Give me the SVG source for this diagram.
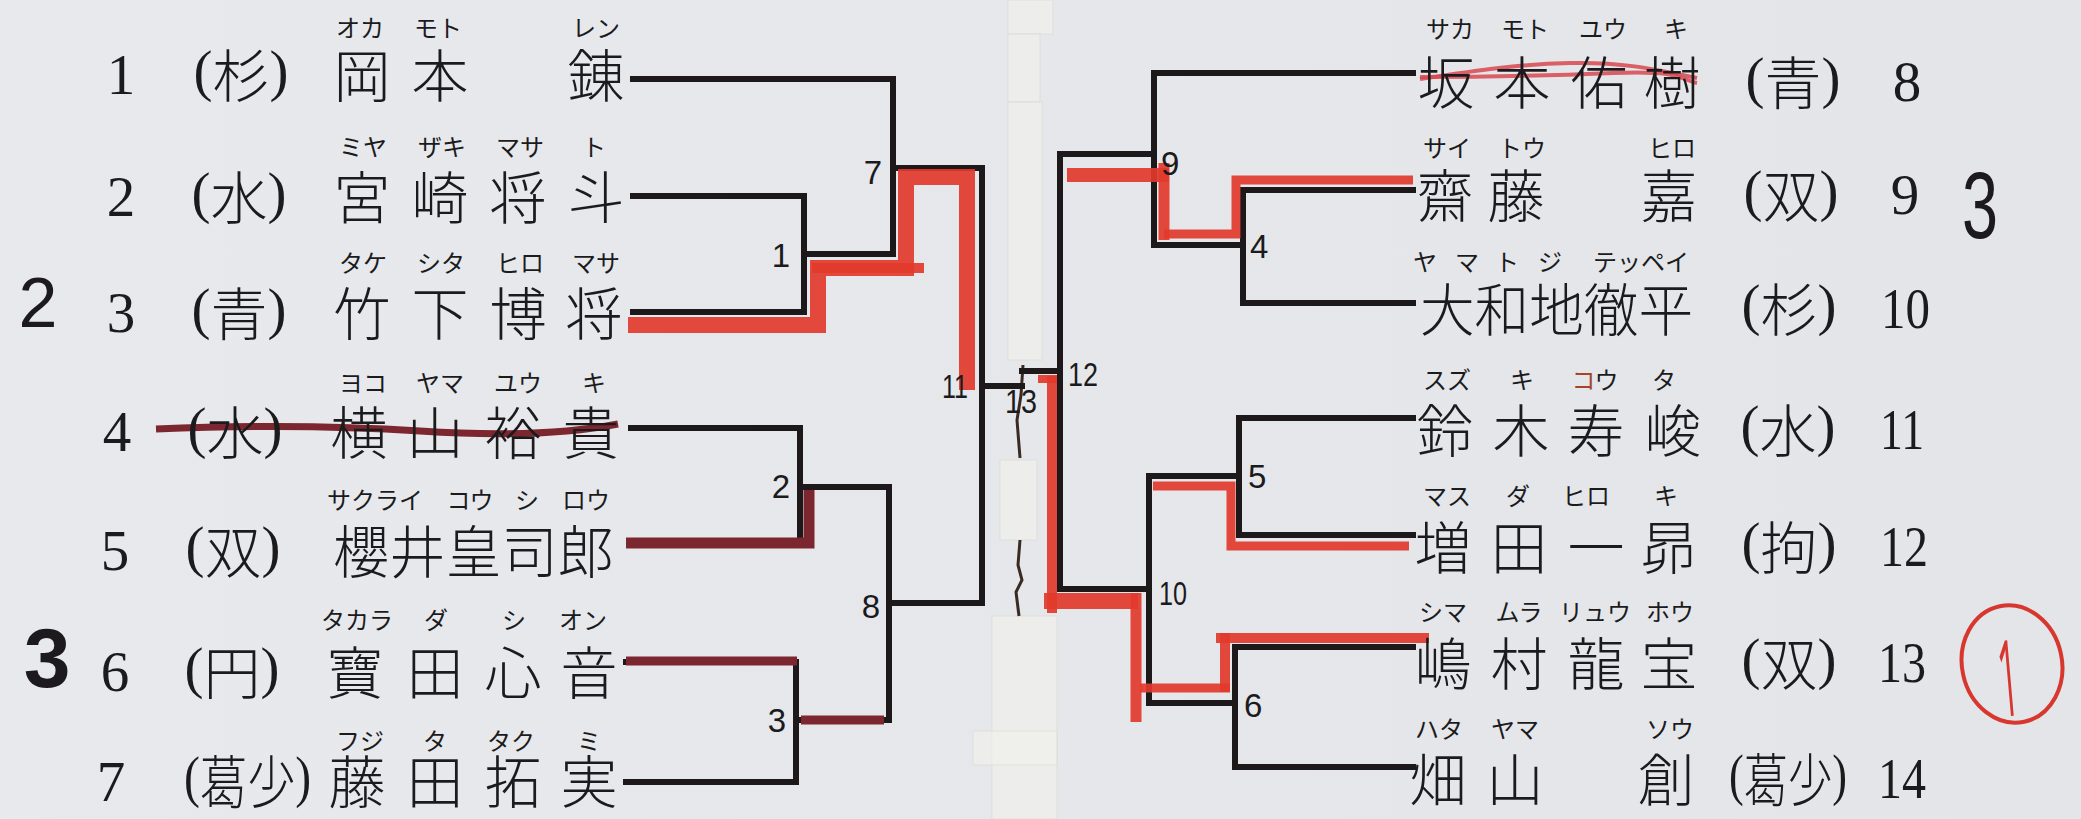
<svg xmlns="http://www.w3.org/2000/svg" width="2081" height="819" viewBox="0 0 2081 819">
<defs>
<style>
.num{font-family:'Liberation Serif','Noto Sans CJK JP',serif;font-size:57px;fill:#1b1b1d}
.nm{font-family:'Noto Sans CJK JP',sans-serif;font-size:57px;font-weight:300;fill:#1b1b1d}
.par{font-family:'Liberation Serif','Noto Sans CJK JP',serif;font-size:57px;fill:#1b1b1d;font-weight:300}
.kana{font-family:'Noto Sans CJK JP',sans-serif;font-size:24px;fill:#1b1b1d}
.lab{font-family:'Liberation Sans',sans-serif;font-size:33px;fill:#1b1b1d}
.hand{font-family:'Liberation Sans',sans-serif;fill:#1c1a1c}
.ln{fill:none;stroke:#1d181a;stroke-width:6;stroke-linecap:square;stroke-linejoin:miter}
.red{fill:none;stroke:#e2392c;stroke-linecap:butt;stroke-linejoin:miter;opacity:0.92}
.mar{fill:none;stroke:#7c2630;stroke-linecap:butt;stroke-linejoin:miter}
.tape{fill:#f0f0ec;stroke:#dcdcd5;stroke-width:1;opacity:0.7}
</style>
<linearGradient id="bg" x1="0" y1="0" x2="1" y2="0">
<stop offset="0" stop-color="#e8e9ec"/>
<stop offset="0.5" stop-color="#e6e7ea"/>
<stop offset="1" stop-color="#e3e5e8"/>
</linearGradient>
</defs>
<rect x="0" y="0" width="2081" height="819" fill="url(#bg)"/>

<g id="paper">
<rect class="tape" x="1008" y="0" width="45" height="34"/>
<rect class="tape" x="1008" y="34" width="32" height="68"/>
<rect class="tape" x="1008" y="102" width="34" height="258"/>
<rect class="tape" x="1000" y="460" width="37" height="80"/>
<rect class="tape" x="992" y="616" width="65" height="203"/>
<rect class="tape" x="973" y="731" width="84" height="34"/>
<path d="M1023 365 L1021 395 L1017 420 L1020 458 M1020 540 L1018 565 L1022 580 L1016 592 L1019 616" fill="none" stroke="#3a2a24" stroke-width="3"/>
</g>

<g id="connectors">
<path class="ln" d="M633 196 H804 V312 H633 M804 254 H893 M633 79 H893 V254 M893 168 H982 M631 428 H800 V542 H631 M800 487 H889 M626 662 H796 V782 H626 M796 720 H889 M889 487 V720 M889 603 H982 M982 168 V603 M982 386 H1022"/>
<path class="ln" d="M1413 73 H1154 V245 M1413 190 H1243 V303 H1413 M1243 245 H1154 M1154 154 H1060 M1060 154 V589 M1060 371 H1022 M1413 418 H1239 V535 H1413 M1239 476 H1149 M1149 476 V703 M1149 589 H1060 M1413 647 H1235 V767 H1413 M1235 703 H1149"/>
</g>

<g id="marks">
<path class="red" stroke-width="16" d="M628 325 H818 V268 H906 V177 H967 V390"/>
<path class="red" stroke-width="10" d="M812 268 H924"/>
<path class="mar" stroke-width="11" d="M626 543 H809 V490"/>
<path class="mar" stroke-width="9" stroke="#4a1c24" d="M626 661 H797 M801 720 H884"/>
<path class="mar" stroke-width="7" stroke="#a8323a" d="M156 429 Q300 423 420 431 T618 424"/>
<path class="red" stroke-width="9" d="M1413 180 H1236 V234 H1164"/>
<path class="red" stroke-width="11" d="M1164 240 V163"/>
<path class="red" stroke-width="14" d="M1169 175 H1067"/>
<path class="red" stroke-width="9" d="M1409 546 H1231 V486 H1153"/>
<path class="red" stroke-width="10" d="M1429 638 H1216"/>
<path class="red" stroke-width="10" d="M1225 633 V692"/>
<path class="red" stroke-width="9" d="M1230 688 H1140"/>
<path class="red" stroke-width="11" d="M1136 722 V593"/>
<path class="red" stroke-width="16" d="M1138 601 H1044"/>
<path class="red" stroke-width="10" d="M1052 613 V376"/>
<path class="red" stroke-width="8" d="M1038 379 H1057"/>
<path fill="none" stroke="#d8464f" stroke-width="4" opacity="0.85" d="M1420 79 C1480 70 1520 64 1570 63 S1650 68 1697 78"/>
<path fill="none" stroke="#d8464f" stroke-width="4" opacity="0.85" d="M1420 77 C1480 77 1540 76 1613 73 S1680 80 1697 83"/>
<text class="hand" x="38" y="327" font-size="70" text-anchor="middle">2</text>
<text class="hand" x="47" y="687" font-size="84" font-weight="bold" text-anchor="middle">3</text>
<text class="hand" x="1962" y="238" font-size="94" textLength="36" lengthAdjust="spacingAndGlyphs">3</text>
<ellipse cx="2012" cy="664" rx="50" ry="59" transform="rotate(-12 2012 664)" fill="none" stroke="#d8372f" stroke-width="4"/>
<text x="1998" y="716" font-family="'Open Sans','Liberation Sans',sans-serif" font-weight="400" font-size="106" fill="#d8372f" textLength="20" lengthAdjust="spacingAndGlyphs" transform="rotate(-5 2008 676)">1</text>
</g>

<g id="p1">
<text class="num" x="121" y="94" text-anchor="middle">1</text>
<text class="par" x="241" y="97" text-anchor="middle"><tspan dy="-7">(</tspan><tspan dy="7">杉</tspan><tspan dy="-7">)</tspan></text>
<text class="kana" y="37" text-anchor="middle"><tspan x="360">オカ</tspan><tspan x="438">モト</tspan><tspan x="596">レン</tspan></text>
<text class="nm" x="362 440 596" y="97" text-anchor="middle">岡本錬</text>
</g>
<g id="p2">
<text class="num" x="121" y="216" text-anchor="middle">2</text>
<text class="par" x="239" y="219" text-anchor="middle"><tspan dy="-7">(</tspan><tspan dy="7">水</tspan><tspan dy="-7">)</tspan></text>
<text class="kana" y="156" text-anchor="middle"><tspan x="363">ミヤ</tspan><tspan x="442">ザキ</tspan><tspan x="520">マサ</tspan><tspan x="594">ト</tspan></text>
<text class="nm" x="362 440 518 596" y="219" text-anchor="middle">宮崎将斗</text>
</g>
<g id="p3">
<text class="num" x="121" y="332" text-anchor="middle">3</text>
<text class="par" x="239" y="335" text-anchor="middle"><tspan dy="-7">(</tspan><tspan dy="7">青</tspan><tspan dy="-7">)</tspan></text>
<text class="kana" y="272" text-anchor="middle"><tspan x="363">タケ</tspan><tspan x="441">シタ</tspan><tspan x="520">ヒロ</tspan><tspan x="596">マサ</tspan></text>
<text class="nm" x="362 440 518 594" y="335" text-anchor="middle">竹下博将</text>
</g>
<g id="p4">
<text class="num" x="117" y="451" text-anchor="middle">4</text>
<text class="par" x="235" y="454" text-anchor="middle"><tspan dy="-7">(</tspan><tspan dy="7">水</tspan><tspan dy="-7">)</tspan></text>
<text class="kana" y="392" text-anchor="middle"><tspan x="363">ヨコ</tspan><tspan x="440">ヤマ</tspan><tspan x="518">ユウ</tspan><tspan x="594">キ</tspan></text>
<text class="nm" x="359 435 513 591" y="454" text-anchor="middle">横山裕貴</text>
</g>
<g id="p5">
<text class="num" x="115" y="570" text-anchor="middle">5</text>
<text class="par" x="233" y="573" text-anchor="middle"><tspan dy="-7">(</tspan><tspan dy="7">双</tspan><tspan dy="-7">)</tspan></text>
<text class="kana" y="509" text-anchor="middle"><tspan x="375">サクライ</tspan><tspan x="470">コウ</tspan><tspan x="527">シ</tspan><tspan x="586">ロウ</tspan></text>
<text class="nm" x="333" y="573" textLength="281" lengthAdjust="spacingAndGlyphs">櫻井皇司郎</text>
</g>
<g id="p6">
<text class="num" x="115" y="691" text-anchor="middle">6</text>
<text class="par" x="232" y="694" text-anchor="middle"><tspan dy="-7">(</tspan><tspan dy="7">円</tspan><tspan dy="-7">)</tspan></text>
<text class="kana" y="629" text-anchor="middle"><tspan x="357">タカラ</tspan><tspan x="436">ダ</tspan><tspan x="514">シ</tspan><tspan x="583">オン</tspan></text>
<text class="nm" x="355 435 513 589" y="694" text-anchor="middle">寶田心音</text>
</g>
<g id="p7">
<text class="num" x="111" y="801" text-anchor="middle">7</text>
<text class="par" x="184" y="803" textLength="127" lengthAdjust="spacingAndGlyphs"><tspan dy="-7">(</tspan><tspan dy="7">葛少</tspan><tspan dy="-7">)</tspan></text>
<text class="kana" y="750" text-anchor="middle"><tspan x="360">フジ</tspan><tspan x="435">タ</tspan><tspan x="511">タク</tspan><tspan x="589">ミ</tspan></text>
<text class="nm" x="357 435 513 589" y="803" text-anchor="middle">藤田拓実</text>
</g>

<g id="p8">
<text class="kana" y="38" text-anchor="middle"><tspan x="1450">サカ</tspan><tspan x="1525">モト</tspan><tspan x="1603">ユウ</tspan><tspan x="1676">キ</tspan></text>
<text class="nm" x="1446 1522 1599 1672" y="104" text-anchor="middle">坂本佑樹</text>
<text class="par" x="1793" y="104" text-anchor="middle"><tspan dy="-7">(</tspan><tspan dy="7">青</tspan><tspan dy="-7">)</tspan></text>
<text class="num" x="1907" y="101" text-anchor="middle">8</text>
</g>
<g id="p9">
<text class="kana" y="157" text-anchor="middle"><tspan x="1447">サイ</tspan><tspan x="1522">トウ</tspan><tspan x="1672">ヒロ</tspan></text>
<text class="nm" x="1445 1516 1669" y="217" text-anchor="middle">齋藤嘉</text>
<text class="par" x="1791" y="217" text-anchor="middle"><tspan dy="-7">(</tspan><tspan dy="7">双</tspan><tspan dy="-7">)</tspan></text>
<text class="num" x="1905" y="214" text-anchor="middle">9</text>
</g>
<g id="p10">
<text class="kana" y="271" text-anchor="middle"><tspan x="1425">ヤ</tspan><tspan x="1467">マ</tspan><tspan x="1507">ト</tspan><tspan x="1550">ジ</tspan><tspan x="1641">テッペイ</tspan></text>
<text class="nm" x="1420" y="331" textLength="273" lengthAdjust="spacingAndGlyphs">大和地徹平</text>
<text class="par" x="1789" y="331" text-anchor="middle"><tspan dy="-7">(</tspan><tspan dy="7">杉</tspan><tspan dy="-7">)</tspan></text>
<text class="num" x="1881" y="328" textLength="49" lengthAdjust="spacingAndGlyphs">10</text>
</g>
<g id="p11">
<text class="kana" y="389" text-anchor="middle"><tspan x="1447">スズ</tspan><tspan x="1522">キ</tspan><tspan x="1595"><tspan fill="#a5452e">コ</tspan>ウ</tspan><tspan x="1664">タ</tspan></text>
<text class="nm" x="1445 1521 1596 1673" y="452" text-anchor="middle">鈴木寿峻</text>
<text class="par" x="1788" y="452" text-anchor="middle"><tspan dy="-7">(</tspan><tspan dy="7">水</tspan><tspan dy="-7">)</tspan></text>
<text class="num" x="1880" y="449" textLength="44" lengthAdjust="spacingAndGlyphs">11</text>
</g>
<g id="p12">
<text class="kana" y="505" text-anchor="middle"><tspan x="1447">マス</tspan><tspan x="1518">ダ</tspan><tspan x="1586">ヒロ</tspan><tspan x="1666">キ</tspan></text>
<text class="nm" x="1443 1519 1596 1669" y="569" text-anchor="middle">増田一昴</text>
<text class="par" x="1789" y="569" text-anchor="middle"><tspan dy="-7">(</tspan><tspan dy="7">拘</tspan><tspan dy="-7">)</tspan></text>
<text class="num" x="1880" y="566" textLength="48" lengthAdjust="spacingAndGlyphs">12</text>
</g>
<g id="p13">
<text class="kana" y="621" text-anchor="middle"><tspan x="1443">シマ</tspan><tspan x="1519">ムラ</tspan><tspan x="1595">リュウ</tspan><tspan x="1670">ホウ</tspan></text>
<text class="nm" x="1443 1519 1596 1669" y="685" text-anchor="middle">嶋村龍宝</text>
<text class="par" x="1789" y="685" text-anchor="middle"><tspan dy="-7">(</tspan><tspan dy="7">双</tspan><tspan dy="-7">)</tspan></text>
<text class="num" x="1878" y="682" textLength="48" lengthAdjust="spacingAndGlyphs">13</text>
</g>
<g id="p14">
<text class="kana" y="738" text-anchor="middle"><tspan x="1439">ハタ</tspan><tspan x="1515">ヤマ</tspan><tspan x="1670">ソウ</tspan></text>
<text class="nm" x="1438 1515 1666" y="801" text-anchor="middle">畑山創</text>
<text class="par" x="1729" y="801" textLength="118" lengthAdjust="spacingAndGlyphs"><tspan dy="-7">(</tspan><tspan dy="7">葛少</tspan><tspan dy="-7">)</tspan></text>
<text class="num" x="1878" y="798" textLength="48" lengthAdjust="spacingAndGlyphs">14</text>
</g>

<g id="m1"><text class="lab" x="790" y="267" text-anchor="end">1</text></g>
<g id="m2"><text class="lab" x="790" y="498" text-anchor="end">2</text></g>
<g id="m3"><text class="lab" x="786" y="732" text-anchor="end">3</text></g>
<g id="m7"><text class="lab" x="882" y="184" text-anchor="end">7</text></g>
<g id="m8"><text class="lab" x="880" y="618" text-anchor="end">8</text></g>
<g id="m11"><text class="lab" x="942" y="398" textLength="26" lengthAdjust="spacingAndGlyphs">11</text></g>
<g id="m13"><text class="lab" x="1005" y="413" textLength="32" lengthAdjust="spacingAndGlyphs">13</text></g>
<g id="m12"><text class="lab" x="1068" y="386" textLength="30" lengthAdjust="spacingAndGlyphs">12</text></g>
<g id="m9"><text class="lab" x="1161" y="175">9</text></g>
<g id="m4"><text class="lab" x="1250" y="258">4</text></g>
<g id="m5"><text class="lab" x="1248" y="488">5</text></g>
<g id="m10"><text class="lab" x="1159" y="605" textLength="28" lengthAdjust="spacingAndGlyphs">10</text></g>
<g id="m6"><text class="lab" x="1244" y="717">6</text></g>
</svg>
